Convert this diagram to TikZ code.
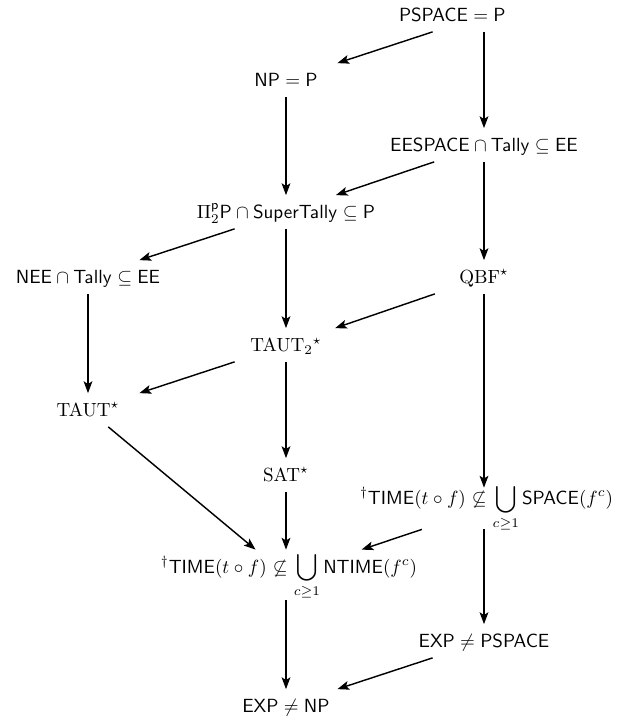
\documentclass[tikz,border=0pt]{standalone}
\usepackage{amsmath}
\usetikzlibrary{arrows.meta}
\begin{document}
\begin{tikzpicture}[x=0.525pt,y=-0.525pt,
  cls/.style={inner xsep=0pt, inner ysep=5.26pt, text height=6.8pt, text depth=0pt, minimum width=57.75pt},
  unionnode/.style={inner xsep=0pt, inner ysep=0pt, align=right},
  arr/.style={-{Stealth[length=6.2pt,width=4.6pt,inset=1.4pt]}, line width=0.75pt}]
\useasboundingbox (0,0) rectangle (617,716);

% hypotheses and consequences
\node[cls, text width=89.25pt, align=left] (ps) at (484,15) {$\mathsf{PSPACE}=\mathsf{P}$};
\node[cls] (np)   at (286,80)  {$\mathsf{NP}=\mathsf{P}$};
\node[cls] (ee)   at (484,145) {$\mathsf{EESPACE}\cap\mathsf{Tally}\subseteq\mathsf{EE}$};
\node[cls] (pi)   at (286,212) {$\Pi^{\mathsf{p}}_2\mathsf{P}\cap\mathsf{SuperTally}\subseteq\mathsf{P}$};
\node[cls] (nee)  at (88,277)  {$\mathsf{NEE}\cap\mathsf{Tally}\subseteq\mathsf{EE}$};
\node[cls] (qbf)  at (484,277) {$\mathrm{QBF}^{\star}$};
\node[cls] (t2)   at (286,345) {$\mathrm{TAUT}_2{}^{\star}$};
\node[cls] (taut) at (88,410)  {$\mathrm{TAUT}^{\star}$};
\node[cls] (sat)  at (286,475) {$\mathrm{SAT}^{\star}$};
\node[unionnode, text width=135.45pt, text height=8.66pt, text depth=12.86pt] (sp) at (484,508.5)
  {$\displaystyle {}^{\dagger}\mathsf{TIME}(t\circ f)\not\subseteq\bigcup\limits_{c\geq1}\mathsf{SPACE}(f^{c})$};
\node[unionnode, text width=137.55pt, text height=12.08pt, text depth=14.18pt] (nt) at (286,575)
  {$\displaystyle {}^{\dagger}\mathsf{TIME}(t\circ f)\not\subseteq\bigcup\limits_{c\geq1}\mathsf{NTIME}(f^{c})$};
\node[cls] (ep)   at (484,641) {$\mathsf{EXP}\neq\mathsf{PSPACE}$};
\node[cls] (en)   at (286,706) {$\mathsf{EXP}\neq\mathsf{NP}$};

% implications
\draw[arr] (ps) -- (np);
\draw[arr] (ps) -- (ee);
\draw[arr] (np) -- (pi);
\draw[arr] (ee) -- (pi);
\draw[arr] (ee) -- (qbf);
\draw[arr] (pi) -- (nee);
\draw[arr] (pi) -- (t2);
\draw[arr] (nee) -- (taut);
\draw[arr] (qbf) -- (t2);
\draw[arr] (qbf) -- (sp);
\draw[arr] (t2) -- (taut);
\draw[arr] (t2) -- (sat);
\draw[arr] (taut) -- (nt);
\draw[arr] (sat) -- (nt);
\draw[arr] (sp) -- (nt);
\draw[arr] (sp) -- (ep);
\draw[arr] (nt) -- (en);
\draw[arr] (ep) -- (en);
\end{tikzpicture}
\end{document}
